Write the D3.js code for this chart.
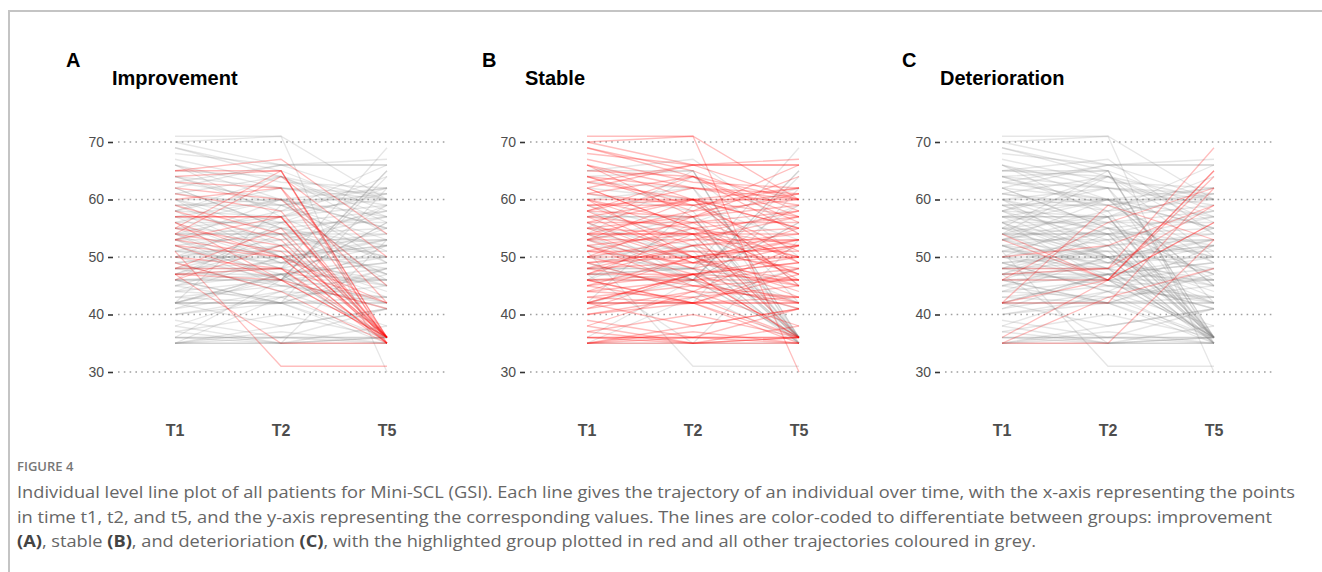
<!DOCTYPE html>
<html>
<head>
<meta charset="utf-8">
<script src="https://cdn.jsdelivr.net/npm/d3@7"></script>
<style>
    body { margin: 0; background: #fff; }
    svg { display: block; }
</style>
</head>
<body>
<div id="chart"></div>
<script>
// time points and y ticks
const timepoints = ['T1', 'T2', 'T5'];
const yTicks = [30, 40, 50, 60, 70];

// each patient: [T1, T2, T5]
const improvement = [
    [65, 65, 36], [65, 67, 54], [64, 65, 35], [63, 62, 36], [61, 58, 36], [57, 57, 35],
    [57, 57, 36], [56, 50, 35], [55, 52, 36], [54, 64, 50], [54, 51, 36], [53, 50, 42],
    [52, 46, 36], [51, 31, 31], [50, 48, 36], [48, 48, 35], [48, 55, 36], [47, 35, 35],
    [47, 46, 36], [47, 48, 42], [46, 52, 36], [60, 62, 42], [58, 53, 35], [55, 65, 36],
    [62, 60, 45], [53, 57, 36], [49, 44, 35], [56, 46, 41], [52, 50, 35], [59, 54, 36]
];

const stable = [
    [71, 71, 60], [70, 66, 66], [69, 65, 58], [68, 66, 67], [66, 60, 62], [65, 64, 60],
    [64, 58, 66], [64, 62, 59], [63, 60, 55], [62, 66, 60], [62, 55, 57], [61, 59, 61],
    [60, 60, 60], [60, 54, 58], [59, 60, 55], [59, 52, 54], [58, 62, 60], [58, 57, 64],
    [57, 55, 52], [57, 50, 53], [56, 56, 58], [56, 60, 49], [55, 54, 55], [55, 49, 50],
    [54, 54, 54], [54, 54, 47], [54, 58, 60], [53, 53, 53], [53, 48, 52], [52, 54, 50],
    [52, 47, 49], [51, 51, 51], [51, 55, 47], [50, 50, 50], [50, 53, 57], [50, 46, 48],
    [49, 50, 45], [49, 44, 52], [48, 52, 47], [48, 45, 46], [47, 47, 50], [46, 46, 46],
    [46, 47, 42], [46, 42, 48], [45, 50, 44], [45, 42, 43], [44, 46, 41], [43, 45, 42],
    [42, 47, 36], [42, 42, 42], [42, 38, 41], [41, 44, 38], [40, 43, 36], [37, 40, 36],
    [36, 36, 36], [36, 35, 36], [36, 36, 35], [35, 35, 35], [35, 37, 35], [35, 36, 36],
    [38, 35, 36], [42, 42, 36], [42, 47, 36], [46, 42, 35], [47, 54, 36], [58, 50, 43],
    [60, 56, 46], [61, 64, 56], [70, 71, 30], [66, 62, 61], [67, 63, 62], [63, 66, 66],
    [59, 59, 62], [57, 60, 57], [55, 57, 61], [53, 56, 56], [51, 49, 53], [49, 51, 48],
    [48, 49, 55], [45, 47, 49], [44, 43, 45], [43, 42, 47], [40, 42, 42], [39, 36, 41],
    [37, 35, 38], [64, 59, 51], [62, 55, 50], [56, 49, 46], [54, 48, 45], [52, 45, 43],
    [69, 64, 54], [58, 64, 57], [50, 57, 59], [47, 52, 53], [44, 50, 52], [41, 47, 46],
    [38, 44, 43], [35, 38, 41], [60, 50, 52], [66, 57, 49], [53, 60, 45]
];

const deterioration = [
    [42, 42, 62], [35, 35, 53], [36, 46, 65], [46, 46, 64], [48, 48, 59], [54, 46, 56],
    [42, 59, 53], [35, 43, 48], [46, 56, 62], [47, 48, 69], [50, 52, 59], [53, 46, 65],
    [42, 46, 56]
];

const panelLetters = ['A', 'B', 'C'];
const panelTitles = ['Improvement', 'Stable', 'Deterioration'];
const panelGroups = ['improvement', 'stable', 'deterioration'];

const captionLines = [
    'Individual level line plot of all patients for Mini-SCL (GSI). Each line gives the trajectory of an individual over time, with the x-axis representing the points',
    'in time t1, t2, and t5, and the y-axis representing the corresponding values. The lines are color-coded to differentiate between groups: improvement'
];

// layout
const W = 1322, H = 572;
const panelX = [118, 530, 945];
const letterX = [66, 482, 902];
const titleX = [112, 525, 940];
const gridW = 330;

const allPatients = [
    ...improvement.map(v => ({ group: 'improvement', values: v })),
    ...stable.map(v => ({ group: 'stable', values: v })),
    ...deterioration.map(v => ({ group: 'deterioration', values: v }))
];

const svg = d3.select('#chart')
    .append('svg')
    .attr('width', W)
    .attr('height', H);

// frame
svg.append('path')
    .attr('d', `M9,${H} L9,11 L${W},11`)
    .attr('fill', 'none')
    .attr('stroke', '#c4c4c4')
    .attr('stroke-width', 2);

const yScale = d3.scaleLinear().domain([30, 70]).range([372, 142]);
const xScale = d3.scalePoint().domain(timepoints).range([57, 269]);

const lineMaker = d3.line()
    .x((d, i) => xScale(timepoints[i]))
    .y(d => yScale(d));

const font = '"Liberation Sans", Arial, sans-serif';

panelGroups.forEach((group, p) => {
    const g = svg.append('g')
        .attr('transform', `translate(${panelX[p]}, 0)`);

    // dotted grid
    g.selectAll('.grid')
        .data(yTicks)
        .enter()
        .append('line')
        .attr('x1', 0)
        .attr('x2', gridW)
        .attr('y1', d => yScale(d))
        .attr('y2', d => yScale(d))
        .attr('stroke', '#a0a0a0')
        .attr('stroke-width', 1.6)
        .attr('stroke-dasharray', '1.6,4.2');

    // y axis
    const yAx = g.append('g')
        .attr('transform', 'translate(-5, 0)')
        .call(d3.axisLeft(yScale).tickValues(yTicks).tickSize(5).tickPadding(4));
    yAx.select('.domain').remove();
    yAx.selectAll('line').attr('stroke', '#333').attr('stroke-width', 1.6);
    yAx.selectAll('text')
        .attr('fill', '#4d4d4d')
        .style('font-family', font)
        .style('font-size', '14px');

    // grey lines first, highlighted group on top
    const others = allPatients.filter(d => d.group !== group);
    const highlighted = allPatients.filter(d => d.group === group);

    g.append('g')
        .selectAll('path')
        .data(others)
        .enter()
        .append('path')
        .attr('d', d => lineMaker(d.values))
        .attr('fill', 'none')
        .attr('stroke', '#808080')
        .attr('stroke-opacity', 0.2)
        .attr('stroke-width', 1.3);

    g.append('g')
        .selectAll('path')
        .data(highlighted)
        .enter()
        .append('path')
        .attr('d', d => lineMaker(d.values))
        .attr('fill', 'none')
        .attr('stroke', '#ff0000')
        .attr('stroke-opacity', 0.26)
        .attr('stroke-width', 1.3);

    // x labels
    g.selectAll('.xlab')
        .data(timepoints)
        .enter()
        .append('text')
        .attr('x', d => xScale(d))
        .attr('y', 436)
        .attr('text-anchor', 'middle')
        .attr('fill', '#4d4d4d')
        .style('font-family', font)
        .style('font-weight', 'bold')
        .style('font-size', '16px')
        .text(d => d);

    svg.append('text')
        .attr('x', letterX[p])
        .attr('y', 67)
        .style('font-family', font)
        .style('font-weight', 'bold')
        .style('font-size', '20px')
        .attr('fill', '#000')
        .text(panelLetters[p]);

    svg.append('text')
        .attr('x', titleX[p])
        .attr('y', 85)
        .style('font-family', font)
        .style('font-weight', 'bold')
        .style('font-size', '20px')
        .attr('fill', '#000')
        .text(panelTitles[p]);
});

// caption
const capFont = '"Open Sans", Lato, sans-serif';
svg.append('text')
    .attr('x', 17)
    .attr('y', 471)
    .attr('fill', '#777')
    .style('font-family', capFont)
    .style('font-size', '13px')
    .style('font-weight', '600')
    .text('FIGURE 4');

captionLines.forEach((line, i) => {
    svg.append('text')
        .attr('x', 17)
        .attr('y', 498 + i * 24.5)
        .attr('fill', '#666')
        .attr('textLength', i === 0 ? 1278 : 1255)
        .attr('lengthAdjust', 'spacingAndGlyphs')
        .style('font-family', capFont)
        .style('font-size', '16.5px')
        .text(line);
});

const last = svg.append('text')
    .attr('x', 17)
    .attr('y', 498 + 2 * 24.5)
    .attr('fill', '#666')
    .attr('textLength', 1019)
    .attr('lengthAdjust', 'spacingAndGlyphs')
    .style('font-family', capFont)
    .style('font-size', '16.5px');
const parts = [
    ['(A)', true], [', stable ', false], ['(B)', true], [', and deterioriation ', false], ['(C)', true],
    [', with the highlighted group plotted in red and all other trajectories coloured in grey.', false]
];
parts.forEach(([t, b]) => {
    last.append('tspan')
        .style('font-weight', b ? 'bold' : 'normal')
        .attr('fill', b ? '#444' : '#666')
        .text(t);
});
</script>
</body>
</html>
